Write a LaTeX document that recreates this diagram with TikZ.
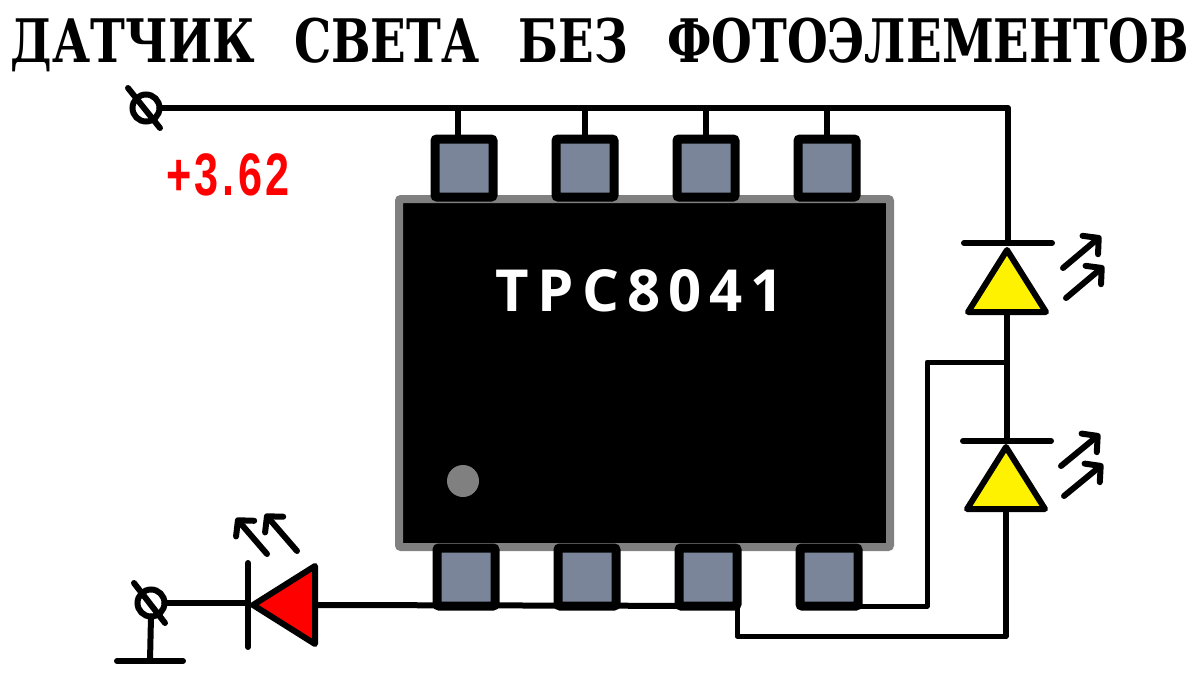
\documentclass[tikz,border=0pt]{standalone}
\usepackage{fontspec}
\usetikzlibrary{positioning,shapes.geometric,arrows.meta}
\newfontfamily\titlefont[FakeStretch=0.78,WordSpace=2.4]{DejaVu Serif}
\newfontfamily\chipfont[LetterSpace=14]{Open Sans}
\newfontfamily\voltfont[LetterSpace=6,FakeStretch=0.72]{Liberation Sans}
\definecolor{pingray}{HTML}{7B8599}
\tikzset{
    wire/.style={line width=3pt,line cap=round,line join=round},
    thinwire/.style={line width=2.5pt,line cap=round,line join=round},
    chipbody/.style={draw=gray,fill=black,line width=4pt,rounded corners=1pt,minimum width=245.5pt,minimum height=174pt,inner sep=0pt,outer sep=0pt},
    pinbox/.style={draw=black,fill=pingray,line width=4.5pt,rounded corners=1pt,minimum size=29pt,inner sep=0pt,outer sep=0pt},
    terminal/.style={draw=black,circle,line width=3pt,minimum size=13.5pt,inner sep=0pt,outer sep=0pt},
    led/.style={draw=black,isosceles triangle,isosceles triangle stretches,line width=3pt,line join=round,minimum width=39pt,minimum height=31pt,inner sep=0pt,outer sep=0pt},
    light/.style={line width=3pt,line cap=round,-{Straight Barb[length=5.5pt,width=12pt,line width=3pt,round]}},
}
\begin{document}
\begin{tikzpicture}[x=0.5pt,y=-0.5pt]
        \useasboundingbox (0,0) rectangle (1200,675);
        \node[font=\titlefont\bfseries\fontsize{30pt}{36pt}\selectfont,text=black] (title) at (600,45) {ДАТЧИК СВЕТА БЕЗ ФОТОЭЛЕМЕНТОВ};

        \node[chipbody] (chip) at (644.5,373) {};
        \node[text=white,font=\chipfont\bfseries\fontsize{29pt}{32pt}\selectfont] (chipname) at (640,291) {TPC8041};
        \node[circle,fill=gray,minimum size=16pt,inner sep=0pt] (dot) at (463,481) {};

        \node[pinbox] (top1) at (464,168) {};
        \node[pinbox,right of=top1,node distance=60.5pt] (top2) {};
        \node[pinbox,right of=top2,node distance=60.5pt] (top3) {};
        \node[pinbox,right of=top3,node distance=60.5pt] (top4) {};
        \node[pinbox] (bot1) at (466,577) {};
        \node[pinbox,right of=bot1,node distance=60.5pt] (bot2) {};
        \node[pinbox,right of=bot2,node distance=60.5pt] (bot3) {};
        \node[pinbox,right of=bot3,node distance=60.5pt] (bot4) {};

        \node[terminal] (plus) at (146,108) {};
        \node[terminal] (minus) at (151,603) {};
        \coordinate (grnd) at (150,661);
        \coordinate (corner) at (1008,108);
        \coordinate (tap) at (1007,362);
        \coordinate (bend) at (927,362);
        \coordinate (return) at (1006,636);
        \coordinate (stub) at (458,136);
        \coordinate (lowrail) at (466,606);

        \node[text=red,font=\voltfont\bfseries\fontsize{30pt}{32pt}\selectfont] (volt) at (228,175) {+3.62};

        \node[led,fill=yellow,shape border rotate=90,anchor=apex] (ledA) at (1007,250) {};
        \node[led,fill=yellow,shape border rotate=90,anchor=apex] (ledB) at (1006,447) {};
        \node[led,fill=red,shape border rotate=180,anchor=apex] (ledC) at (253,605) {};

        \coordinate (barA) at (1008,243);
        \coordinate (barB) at (1007,441);
        \coordinate (barC) at (248,605);

        % supply rail
        \draw[wire] (plus.east) -- (corner) -- (barA);
        \draw[wire] (stub) -- (stub |- corner);
        \draw[wire] (top2.north) -- (top2.north |- corner);
        \draw[wire] (top3.north) -- (top3.north |- corner);
        \draw[wire] (top4.north) -- (top4.north |- corner);

        % right side
        \draw[wire] (ledA.lower side) -- (tap) -- (barB);
        \draw[thinwire] (tap) -- (bend) |- (bot4.east |- lowrail);
        \draw[wire] (ledB.lower side) -- (return);
        \draw[thinwire] (return) -- (return -| bot3.east) -- (bot3.east |- lowrail);

        % lower side
        \draw[wire] (ledC.lower side) -- (bot3.east |- lowrail);
        \draw[wire] (minus.east) -- (barC |- minus.east);
        \draw[wire] (minus.south) -- (grnd);
        \draw[wire] ([shift={(-33,0)}]grnd) -- ([shift={(33,0)}]grnd);

        % terminal slashes
        \draw[wire] ([shift={(-18,-20)}]plus.center) -- ([shift={(14,20)}]plus.center);
        \draw[wire] ([shift={(-17,-20)}]minus.center) -- ([shift={(14,20)}]minus.center);

        % diode bars
        \draw[wire] ([shift={(-44,0)}]barA) -- ([shift={(44,0)}]barA);
        \draw[wire] ([shift={(-44,0)}]barB) -- ([shift={(44,0)}]barB);
        \draw[wire] ([shift={(0,-42)}]barC) -- ([shift={(0,42)}]barC);

        % light rays
        \draw[light] ([shift={(55,25)}]barA) -- ([shift={(93,-7)}]barA);
        \draw[light] ([shift={(58,55)}]barA) -- ([shift={(96,23)}]barA);
        \draw[light] ([shift={(54,25)}]barB) -- ([shift={(93,-7)}]barB);
        \draw[light] ([shift={(57,55)}]barB) -- ([shift={(96,23)}]barB);
        \draw[light] ([shift={(19,-51)}]barC) -- ([shift={(-12,-87)}]barC);
        \draw[light] ([shift={(49,-54)}]barC) -- ([shift={(17,-91)}]barC);
    \end{tikzpicture}
\end{document}
